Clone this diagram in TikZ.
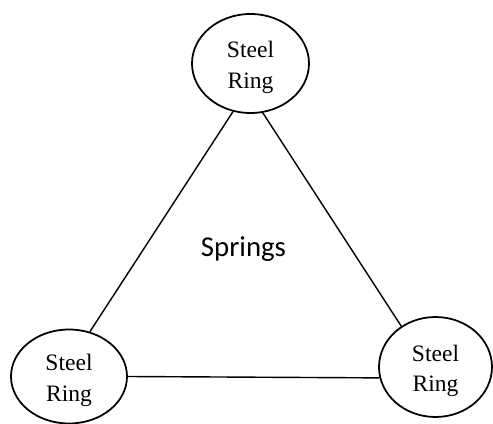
\documentclass[tikz,border=0pt]{standalone}
\usepackage{fontspec}
\setmainfont{Liberation Serif}
\newfontfamily\springfont{Carlito}
\usetikzlibrary{shapes.geometric}
\tikzset{steelring/.style={draw,ellipse,line width=1pt,inner sep=0pt,align=center,
    text height=1.1cm,font=\fontsize{13.4}{17.6}\selectfont}}

\begin{document}
\begin{tikzpicture}
      \useasboundingbox (0,0) rectangle (9.86,8.48);

      \node[steelring,minimum width=2.34cm,minimum height=1.98cm] (top) at (5.01,7.21) {Steel\\Ring};
      \node[steelring,minimum width=2.32cm,minimum height=1.88cm] (left) at (1.38,0.95) {Steel\\Ring};
      \node[steelring,minimum width=2.26cm,minimum height=2.0cm] (right) at (8.71,1.14) {Steel\\Ring};

      \draw[line width=.8pt](top.250)--(left.65);
      \draw[line width=.8pt](top.284)--(right.130);
      \draw[line width=.8pt](left.east)--(right.191);

      \node[anchor=base,font=\springfont\fontsize{16.4}{20}\selectfont] (springs) at (4.87,3.34) {Springs};
\end{tikzpicture}
\end{document}
